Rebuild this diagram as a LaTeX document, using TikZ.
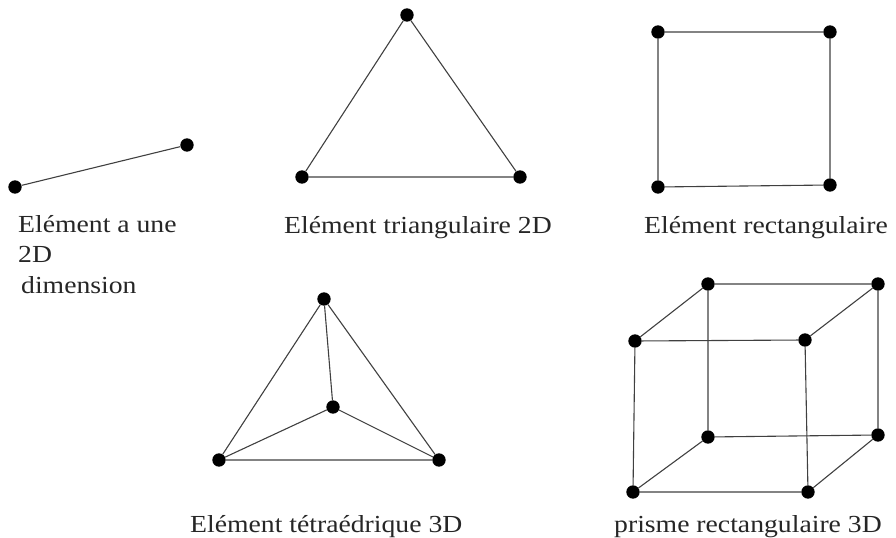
\documentclass[tikz,border=0pt]{standalone}
\usepackage{fontspec}
\setmainfont[FakeStretch=1.13]{Liberation Serif}
\tikzset{
  nd/.style={circle,fill=black,inner sep=0pt,minimum size=4.7mm},
  ed/.style={draw=black!75,line width=1.1pt},
  lbl/.style={anchor=west,font=\fontsize{24.5}{30.5}\selectfont,inner sep=0pt,text=black!85}
}
\begin{document}
\begin{tikzpicture}[x=0.3514mm,y=-0.3514mm]
  \useasboundingbox (0,0) rectangle (896,538);

  % segment
  \node[nd] (s1) at (15,187) {};
  \node[nd] (s2) at (187,145) {};
  \draw[ed] (s1) -- (s2);
  \node[lbl,align=left,anchor=north west] (t1) at (18,215) {Elément a une\\2D\\ \hspace*{3pt}dimension};

  % triangle
  \foreach \n/\x/\y in {a/407/15, b/302/177, c/520/177}
    \node[nd] (tr\n) at (\x,\y) {};
  \draw[ed] (tra) -- (trb) -- (trc) -- (tra);
  \node[lbl] (t2) at (284,228) {Elément triangulaire 2D};

  % rectangle
  \foreach \n/\x/\y in {a/658/32, b/830/32, c/830/185, d/658/187}
    \node[nd] (re\n) at (\x,\y) {};
  \draw[ed] (rea) -- (reb) -- (rec) -- (red) -- (rea);
  \node[lbl] (t3) at (644,228) {Elément rectangulaire};

  % tetraedre
  \foreach \n/\x/\y in {a/324/299, b/333/407, c/219/460, d/439/460}
    \node[nd] (te\n) at (\x,\y) {};
  \draw[ed] (tea) -- (tec) -- (ted) -- (tea) -- (teb);
  \draw[ed] (tec) -- (teb) -- (ted);
  \node[lbl] (t4) at (190,527) {Elément tétraédrique 3D};

  % prisme
  \foreach \n/\x/\y in {a/635/341, b/805/340, c/808/492, d/633/492,
    e/708/284, f/878/284, g/878/435, h/708/437}
    \node[nd] (pr\n) at (\x,\y) {};
  \draw[ed] (pra) -- (prb) -- (prc) -- (prd) -- (pra);
  \draw[ed] (pre) -- (prf) -- (prg) -- (prh) -- (pre);
  \draw[ed] (pra) -- (pre);
  \draw[ed] (prb) -- (prf);
  \draw[ed] (prc) -- (prg);
  \draw[ed] (prd) -- (prh);
  \node[lbl] (t5) at (614,527) {prisme rectangulaire 3D};
\end{tikzpicture}
\end{document}
